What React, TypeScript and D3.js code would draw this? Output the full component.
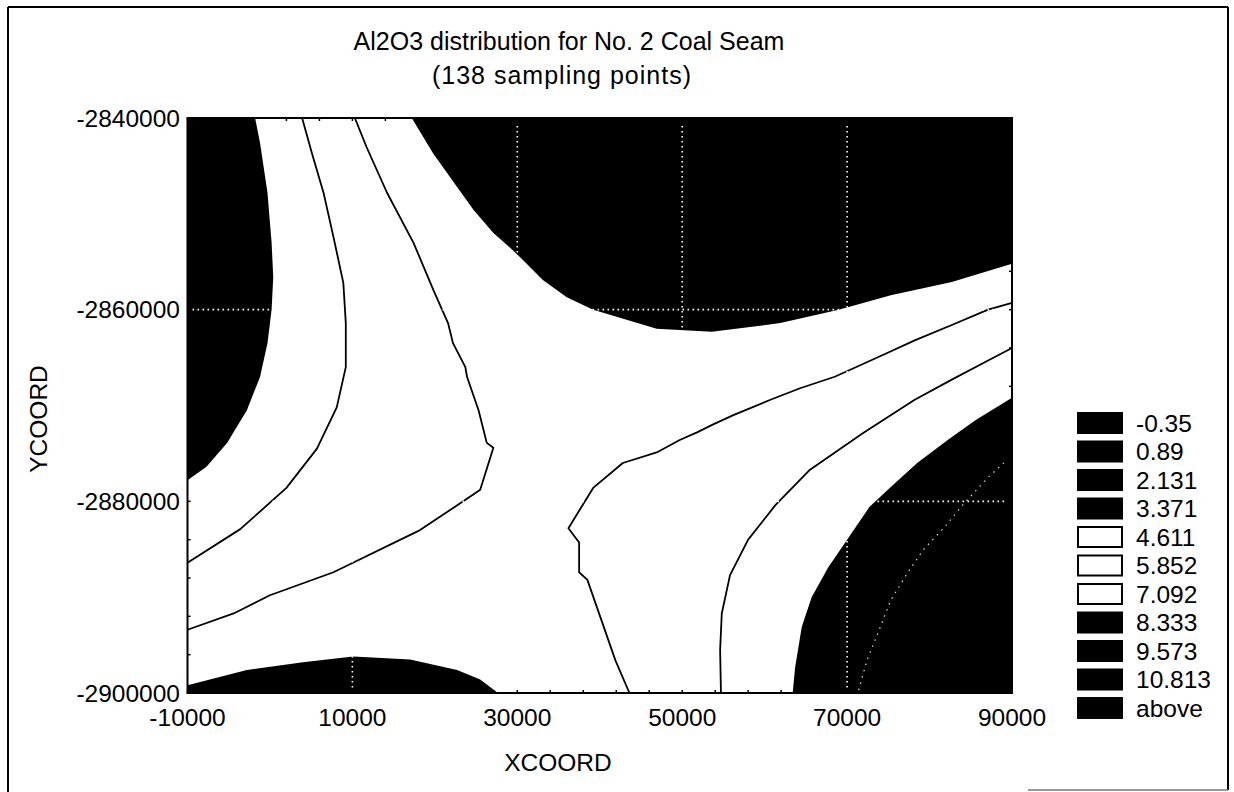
import React from 'react';
import * as d3 from 'd3';

// ---- axis / tick data ----
const X_DOMAIN = [-10000, 90000];
const Y_DOMAIN = [-2900000, -2840000];
const X_TICKS = [-10000, 10000, 30000, 50000, 70000, 90000];
const Y_TICKS = [-2840000, -2860000, -2880000, -2900000];
const GRID_X = [10000, 30000, 50000, 70000];
const GRID_Y = [-2860000, -2880000];
const MINOR_STEP = 4000;

// ---- legend ----
const LEGEND_LEVELS = [-0.35, 0.89, 2.131, 3.371, 4.611, 5.852, 7.092, 8.333, 9.573, 10.813];
const LEGEND_LABELS = ['-0.35', '0.89', '2.131', '3.371', '4.611', '5.852', '7.092', '8.333', '9.573', '10.813', 'above'];

// ---- contour boundaries (XCOORD, YCOORD) ----
// low region, top-left (<= 3.371)
const lowTopLeft = [
  [-1800, -2840000], [-1200, -2842600], [-300, -2847800], [200, -2853000], [400, -2856600],
  [200, -2860000], [-300, -2863500], [-1200, -2867000], [-2800, -2870500], [-5200, -2873900],
  [-7700, -2876400], [-10000, -2877800],
];
// high region, top-middle / right (> 7.092)
const highTop = [
  [17200, -2840000], [19800, -2843700], [22700, -2847200], [24700, -2849600], [27100, -2852000],
  [29100, -2853500], [30900, -2855000], [33100, -2856900], [36000, -2858700], [39200, -2860000],
  [46900, -2862000], [53600, -2862300], [61900, -2861400], [69000, -2860000], [75300, -2858500],
  [82700, -2857100], [90000, -2855200],
];
// low region, bottom-right (<= 3.371)
const lowBottomRight = [
  [90000, -2869200], [85600, -2871500], [82200, -2873600], [78500, -2876000], [75300, -2878500],
  [72700, -2880600], [70000, -2884000], [67700, -2886900], [65700, -2890000], [64500, -2893100],
  [63700, -2897300], [63400, -2900000],
];
// high region, bottom-left (> 7.092)
const highBottomLeft = [
  [-10000, -2899200], [-2800, -2897600], [4000, -2896800], [10100, -2896200], [17000, -2896500],
  [22700, -2897600], [25500, -2898600], [27500, -2899900], [27700, -2900000],
];
// 4.611 isoline, upper-left
const iso4611Left = [
  [3900, -2840000], [5100, -2843700], [6500, -2847800], [7700, -2852400], [8900, -2857200],
  [9200, -2861400], [9200, -2866000], [8100, -2870200], [5700, -2874500], [2000, -2878600],
  [-3600, -2882900], [-10000, -2886400],
];
// 5.852 isoline, upper-left
const iso5852Left = [
  [10300, -2840000], [11700, -2843000], [14200, -2847800], [17400, -2853000], [19800, -2857900],
  [21600, -2861400], [22200, -2863500], [23700, -2866000], [23900, -2867000], [25300, -2870500],
  [26300, -2873900], [27100, -2874400], [25500, -2878800], [24300, -2879500], [18200, -2883000],
  [7700, -2887400], [0, -2889800], [-4400, -2891700], [-10000, -2893400],
];
// 5.852 isoline, lower-right
const iso5852Right = [
  [90000, -2859300], [87100, -2860000], [82700, -2861600], [78200, -2863200], [74400, -2864700],
  [68500, -2867000], [64300, -2868200], [60700, -2869400], [56200, -2871000], [53700, -2872000],
  [51800, -2872800], [49700, -2873600], [46900, -2874900], [42800, -2876000], [39200, -2878600],
  [36200, -2882800], [37500, -2884300], [37500, -2887400], [38500, -2888200], [41900, -2896600],
  [43600, -2900000],
];
// 4.611 isoline, lower-right
const iso4611Right = [
  [90000, -2864000], [87100, -2865300], [82700, -2867300], [78200, -2869400], [71900, -2872900],
  [65500, -2876700], [61300, -2880400], [58000, -2884000], [55800, -2887700], [54800, -2891700],
  [54600, -2895500], [54700, -2900000],
];
// faint 2.131 isoline inside the bottom-right low region
const iso2131Right = [
  [71400, -2899700], [72400, -2896600], [73900, -2893400], [75300, -2890300], [77300, -2887500],
  [79200, -2885100], [81800, -2882700], [84200, -2880200], [87100, -2877500], [89000, -2876000],
];

const REGIONS = [
  { pts: lowTopLeft, corner: [-10000, -2840000], level: 3.371, side: 'below' },
  { pts: highTop, corner: [90000, -2840000], level: 7.092, side: 'above' },
  { pts: lowBottomRight, corner: [90000, -2900000], level: 3.371, side: 'below' },
  { pts: highBottomLeft, corner: [-10000, -2900000], level: 7.092, side: 'above' },
];
const ISOLINES = [iso4611Left, iso5852Left, iso5852Right, iso4611Right];

const W = 1234;
const H = 792;
const PLOT = { left: 187.5, right: 1012, top: 118, bottom: 693 };
const FONT = '"Liberation Sans", Arial, Helvetica, sans-serif';

const bandFill = (v: number) => (v > 3.371 && v <= 7.092 ? '#ffffff' : '#000000');

export default function App() {
  const x = d3.scaleLinear().domain(X_DOMAIN).range([PLOT.left, PLOT.right]);
  const y = d3.scaleLinear().domain(Y_DOMAIN).range([PLOT.bottom, PLOT.top]);
  const line = d3
    .line<number[]>()
    .x((d) => x(d[0]))
    .y((d) => y(d[1]));

  const minorX = d3.range(X_DOMAIN[0], X_DOMAIN[1] + 1, MINOR_STEP);
  const minorY = d3.range(Y_DOMAIN[1], Y_DOMAIN[0] - 1, -MINOR_STEP);

  const legendX = 1077;
  const legendTop = 412;
  const legendStep = 28.5;

  return (
    <svg
      width={W}
      height={H}
      style={{ position: 'absolute', left: 0, top: 0, background: '#fff' }}
      fontFamily={FONT}
    >
      <rect x={0} y={0} width={W} height={H} fill="#fff" />
      {/* outer frame */}
      <g stroke="#000" strokeWidth={2} fill="none">
        <line x1={8} y1={7} x2={1228} y2={7} />
        <line x1={8} y1={7} x2={8} y2={792} />
        <line x1={1228} y1={7} x2={1228} y2={790} />
      </g>
      <line x1={1028} y1={790} x2={1228} y2={790} stroke="#777" strokeWidth={1.5} />

      {/* title */}
      <text x={569} y={50} fontSize={25} textAnchor="middle">
        Al2O3 distribution for No. 2 Coal Seam
      </text>
      <text x={562} y={84} fontSize={25} letterSpacing={1} textAnchor="middle">
        (138 sampling points)
      </text>

      {/* plot background */}
      <rect
        x={PLOT.left}
        y={PLOT.top}
        width={PLOT.right - PLOT.left}
        height={PLOT.bottom - PLOT.top}
        fill="#fff"
      />
      {/* filled bands */}
      {REGIONS.map((r, i) => (
        <path
          key={'r' + i}
          d={line([...r.pts, r.corner]) + 'Z'}
          fill={bandFill(r.side === 'below' ? r.level : r.level + 1)}
          stroke="none"
        />
      ))}
      {/* isolines between white bands */}
      {ISOLINES.map((pts, i) => (
        <path key={'l' + i} d={line(pts) || ''} fill="none" stroke="#000" strokeWidth={1.8} strokeLinejoin="round" />
      ))}
      {/* faint isoline inside low region */}
      <path
        d={line(iso2131Right) || ''}
        fill="none"
        stroke="#fff"
        strokeWidth={1.2}
        strokeDasharray="1.5 5"
        opacity={0.85}
      />

      {/* grid lines (white dotted) */}
      <g stroke="#fff" strokeWidth={1.6} strokeDasharray="1.6 3.4">
        {GRID_X.map((v) => (
          <line key={'gx' + v} x1={x(v)} x2={x(v)} y1={PLOT.top + 8} y2={PLOT.bottom - 5} />
        ))}
        {GRID_Y.map((v) => (
          <line key={'gy' + v} x1={PLOT.left + 5} x2={PLOT.right - 6} y1={y(v)} y2={y(v)} />
        ))}
      </g>

      {/* plot border and minor ticks */}
      <rect
        x={PLOT.left}
        y={PLOT.top}
        width={PLOT.right - PLOT.left}
        height={PLOT.bottom - PLOT.top}
        fill="none"
        stroke="#000"
        strokeWidth={2}
      />
      <g stroke="#000" strokeWidth={1.5}>
        {minorX.map((v) => (
          <g key={'mx' + v}>
            <line x1={x(v)} x2={x(v)} y1={PLOT.bottom} y2={PLOT.bottom - 3} />
            <line x1={x(v)} x2={x(v)} y1={PLOT.top} y2={PLOT.top + 3} />
          </g>
        ))}
        {minorY.map((v) => (
          <g key={'my' + v}>
            <line x1={PLOT.left} x2={PLOT.left + 3} y1={y(v)} y2={y(v)} />
            <line x1={PLOT.right} x2={PLOT.right - 3} y1={y(v)} y2={y(v)} />
          </g>
        ))}
      </g>

      {/* tick labels */}
      {Y_TICKS.map((v) => (
        <text key={'yt' + v} x={180} y={y(v) + 8.5} fontSize={24.5} textAnchor="end">
          {String(v)}
        </text>
      ))}
      {X_TICKS.map((v) => (
        <text key={'xt' + v} x={x(v)} y={726} fontSize={24.5} textAnchor="middle">
          {String(v)}
        </text>
      ))}
      <text x={558} y={771} fontSize={24.5} textAnchor="middle">
        XCOORD
      </text>
      <text transform="translate(47,419) rotate(-90)" fontSize={24.5} textAnchor="middle">
        YCOORD
      </text>

      {/* legend */}
      {LEGEND_LABELS.map((lab, i) => {
        const v = i < LEGEND_LEVELS.length ? LEGEND_LEVELS[i] : Infinity;
        const top = legendTop + i * legendStep;
        return (
          <g key={'lg' + i}>
            <rect
              x={legendX + 1}
              y={top + 1}
              width={44}
              height={20}
              fill={bandFill(v)}
              stroke="#000"
              strokeWidth={2}
            />
            <text x={1136} y={top + 19.5} fontSize={24.5}>
              {lab}
            </text>
          </g>
        );
      })}
    </svg>
  );
}
